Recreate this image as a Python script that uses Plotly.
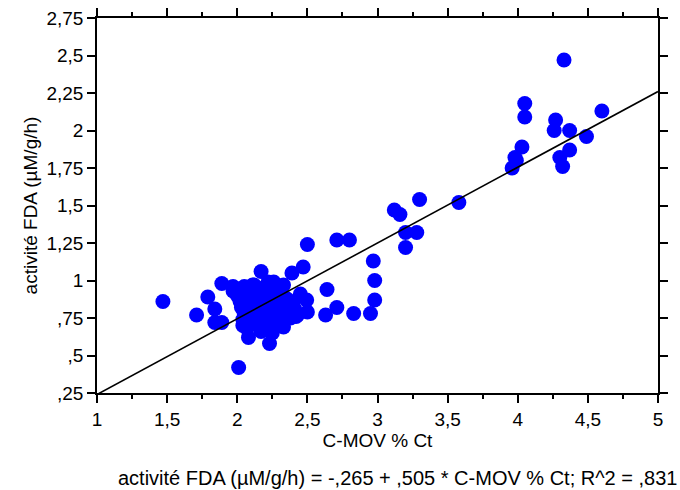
import plotly.graph_objects as go

# Data
cmov = [
    4.33, 4.05, 4.05, 4.60, 4.27, 4.26, 4.37, 4.49, 4.03, 3.98, 3.99, 3.96, 4.37, 4.30, 4.32,
    3.58, 3.30, 3.12, 3.16, 3.20, 3.28, 3.20, 2.71, 2.80, 2.50, 2.97, 2.98, 2.98, 2.95, 2.83,
    2.71, 2.63, 2.64, 2.47, 2.39, 2.17, 2.50, 2.45, 2.42, 2.33, 2.19, 2.04,
    1.47, 1.71, 1.79, 1.84, 1.89, 1.89, 1.97, 2.01, 2.08, 2.23, 2.11, 2.26, 2.33, 2.495,
    1.97, 2.00, 2.02, 2.03, 2.05, 2.04, 2.06, 2.08, 2.10, 2.11, 2.12, 2.13, 2.14, 2.15,
    2.16, 2.17, 2.18, 2.19, 2.20, 2.21, 2.22, 2.23, 2.24, 2.25, 2.26, 2.27, 2.28, 2.29,
    2.30, 2.31, 2.32, 2.33, 2.35, 2.36, 2.37, 2.38, 2.40, 2.41, 2.43, 2.07, 2.17, 2.25,
    2.12, 2.22, 2.05, 1.84,
]
fda = [
    2.47, 2.18, 2.09, 2.13, 2.07, 2.00, 2.00, 1.96, 1.89, 1.82, 1.80, 1.75, 1.87, 1.82, 1.76,
    1.52, 1.54, 1.47, 1.44, 1.32, 1.32, 1.22, 1.27, 1.27, 1.24, 1.13, 1.00, 0.87, 0.78, 0.78,
    0.82, 0.77, 0.94, 1.09, 1.05, 1.06, 0.79, 0.91, 0.76, 0.69, 0.68, 0.70,
    0.86, 0.77, 0.89, 0.81, 0.98, 0.72, 0.96, 0.42, 0.62, 0.58, 0.97, 0.99, 0.97, 0.87,
    0.93, 0.90, 0.86, 0.82, 0.78, 0.74, 0.70, 0.92, 0.88, 0.84, 0.80, 0.76, 0.72, 0.95,
    0.90, 0.86, 0.82, 0.78, 0.74, 0.70, 0.93, 0.88, 0.84, 0.80, 0.76, 0.72, 0.96, 0.90,
    0.85, 0.81, 0.77, 0.73, 0.88, 0.83, 0.79, 0.75, 0.86, 0.81, 0.77, 0.68, 0.66, 0.65,
    0.97, 0.99, 0.96, 0.72,
]

intercept = -0.265
slope = 0.505
fit_x = [1.0, 5.0]
fit_y = [intercept + slope * v for v in fit_x]

x_tickvals = [1, 1.5, 2, 2.5, 3, 3.5, 4, 4.5, 5]
x_ticktext = ["1", "1,5", "2", "2,5", "3", "3,5", "4", "4,5", "5"]
y_tickvals = [0.25, 0.5, 0.75, 1, 1.25, 1.5, 1.75, 2, 2.25, 2.5, 2.75]
y_ticktext = [",25", ",5", ",75", "1", "1,25", "1,5", "1,75", "2", "2,25", "2,5", "2,75"]

FONT = "Liberation Sans, Arial, sans-serif"

fig = go.Figure()
fig.add_trace(go.Scatter(
    x=cmov, y=fda, mode="markers",
    marker=dict(color="#0000FF", size=15, line=dict(width=0)),
    showlegend=False, cliponaxis=False,
))
fig.add_trace(go.Scatter(
    x=fit_x, y=fit_y, mode="lines",
    line=dict(color="black", width=1.6),
    showlegend=False,
))

fig.update_layout(
    width=680, height=490,
    margin=dict(l=97, r=22, t=18, b=97, autoexpand=False),
    paper_bgcolor="white", plot_bgcolor="white",
    font=dict(family=FONT, size=19, color="black"),
    xaxis=dict(
        range=[1, 5], tickvals=x_tickvals, ticktext=x_ticktext,
        showgrid=False, zeroline=False, automargin=False,
        showline=True, linecolor="black", linewidth=1.5, mirror="ticks",
        ticks="outside", ticklen=8, tickwidth=1.5, tickcolor="black",
        minor=dict(dtick=0.25, tick0=1, ticks="outside", ticklen=4, tickwidth=1.5, tickcolor="black", showgrid=False),
        title=dict(text="C-MOV % Ct", font=dict(size=19), standoff=4),
        tickfont=dict(size=19),
    ),
    yaxis=dict(
        range=[0.25, 2.75], tickvals=y_tickvals, ticktext=y_ticktext,
        showgrid=False, zeroline=False, automargin=False,
        showline=True, linecolor="black", linewidth=1.5, mirror="ticks",
        ticks="outside", ticklen=8, tickwidth=1.5, tickcolor="black",
        title=dict(text="activité FDA (µM/g/h)", font=dict(size=19), standoff=4),
        tickfont=dict(size=19),
    ),
    annotations=[dict(
        text="activité FDA (µM/g/h) = -,265 + ,505 * C-MOV % Ct; R^2 = ,831",
        xref="paper", yref="paper", x=0.535, y=-0.227,
        xanchor="center", yanchor="middle", showarrow=False,
        font=dict(size=20, family=FONT, color="black"),
    )],
)

fig.write_html(
    "out.html",
    config={"displayModeBar": False},
    post_script="document.body.style.margin='0';document.body.style.padding='0';",
)
